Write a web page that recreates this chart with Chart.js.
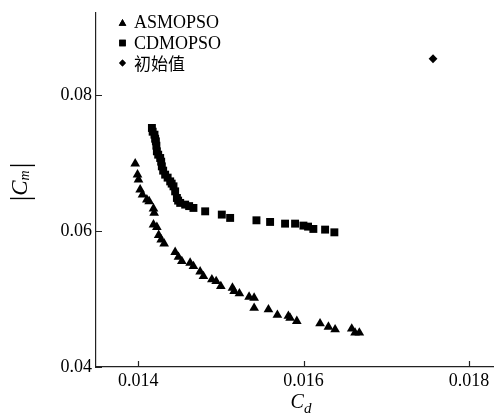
<!DOCTYPE html>
<html>
<head>
<meta charset="utf-8">
<script src="https://cdn.jsdelivr.net/npm/chart.js@4/dist/chart.umd.min.js"></script>
<style>
  html, body { margin: 0; padding: 0; background: #fff; }
  #wrap { width: 494px; height: 417px; }
</style>
</head>
<body>
<div id="wrap"><canvas id="c" width="494" height="417"></canvas></div>
<script>
// series names
const seriesNames = ['ASMOPSO', 'CDMOPSO', '初始值'];

// ASMOPSO front (Cd, |Cm|)
const asmX = [0.013964, 0.013992, 0.014004, 0.014024, 0.014052, 0.014105, 0.014133, 0.014185, 0.014193, 0.014185,
  0.014226, 0.014248, 0.014278, 0.014314, 0.014447, 0.014487, 0.014528, 0.014628, 0.014668, 0.014749,
  0.014789, 0.014891, 0.014943, 0.014999, 0.01514, 0.01516, 0.015224, 0.015341, 0.015402, 0.015402,
  0.015575, 0.015683, 0.015816, 0.015837, 0.015918, 0.016199, 0.0163, 0.016381, 0.016582, 0.016622, 0.016674];
const asmY = [0.06993, 0.06831, 0.06757, 0.06610, 0.06537, 0.06463, 0.06438, 0.06331, 0.06268, 0.06096,
  0.06059, 0.05941, 0.05875, 0.05816, 0.05691, 0.05618, 0.05556, 0.05532, 0.05482, 0.05404,
  0.05335, 0.05287, 0.05262, 0.05188, 0.05165, 0.05115, 0.05081, 0.05032, 0.05018, 0.04868,
  0.04846, 0.04765, 0.04750, 0.04721, 0.04674, 0.04640, 0.04591, 0.04551, 0.04562, 0.04503, 0.04503];

// CDMOPSO front
const cdX = [0.014166, 0.014175, 0.014197, 0.014205, 0.014214, 0.01422, 0.014226, 0.014242, 0.014266, 0.014278,
  0.014286, 0.014302, 0.014326, 0.014356, 0.014387, 0.014405, 0.014427, 0.014447, 0.014468, 0.014483,
  0.014508, 0.014568, 0.014616, 0.014668, 0.01481, 0.015011, 0.015112, 0.01543, 0.015595, 0.015776,
  0.015897, 0.015998, 0.016054, 0.016118, 0.01626, 0.016372];
const cdY = [0.07518, 0.07463, 0.07419, 0.07360, 0.07321, 0.07257, 0.07174, 0.07125, 0.07076, 0.07022,
  0.06953, 0.06890, 0.06831, 0.06787, 0.06732, 0.06699, 0.06659, 0.06585, 0.06488, 0.06449,
  0.06415, 0.06390, 0.06368, 0.06341, 0.06291, 0.06243, 0.06194, 0.06159, 0.06135, 0.06110,
  0.06110, 0.06081, 0.06066, 0.06032, 0.06022, 0.05982];

// initial design
const initX = [0.017565];
const initY = [0.08537];

// ticks
const xTicks = [0.014, 0.016, 0.018];
const xTickLabels = ['0.014', '0.016', '0.018'];
const yTicks = [0.04, 0.06, 0.08];
const yTickLabels = ['0.04', '0.06', '0.08'];

const pts = (xs, ys) => xs.map((x, i) => ({ x: x, y: ys[i] }));
const SERIF = '"Liberation Serif", "DejaVu Serif", serif';

// inward tick marks
const tickMarks = {
  id: 'tickMarks',
  afterDraw(chart) {
    const ctx = chart.ctx;
    const xs = chart.scales.x, ys = chart.scales.y;
    const a = chart.chartArea;
    ctx.save();
    ctx.strokeStyle = '#222';
    ctx.lineWidth = 1.2;
    ctx.beginPath();
    xTicks.forEach(v => {
      const p = Math.round(xs.getPixelForValue(v)) + 0.5;
      ctx.moveTo(p, a.bottom);
      ctx.lineTo(p, a.bottom - 6);
    });
    yTicks.forEach(v => {
      const p = Math.round(ys.getPixelForValue(v)) + 0.5;
      ctx.moveTo(a.left, p);
      ctx.lineTo(a.left + 6, p);
    });
    ctx.stroke();
    ctx.restore();
  }
};

// axis titles with italic subscripts
const axisTitles = {
  id: 'axisTitles',
  afterDraw(chart) {
    const ctx = chart.ctx;
    ctx.save();
    ctx.fillStyle = '#000';
    ctx.textBaseline = 'alphabetic';
    // x title: C_d
    ctx.font = 'italic 20px ' + SERIF;
    const cw = ctx.measureText('C').width;
    ctx.font = 'italic 15px ' + SERIF;
    const dw = ctx.measureText('d').width;
    let x0 = 301 - (cw + dw) / 2;
    ctx.font = 'italic 20px ' + SERIF;
    ctx.fillText('C', x0, 408);
    ctx.font = 'italic 15px ' + SERIF;
    ctx.fillText('d', x0 + cw, 413);
    // y title: |C_m|
    ctx.translate(28, 182);
    ctx.rotate(-Math.PI / 2);
    ctx.font = '28px ' + SERIF;
    const bw = ctx.measureText('|').width;
    ctx.font = 'italic 23px ' + SERIF;
    const cmw = ctx.measureText('C').width;
    ctx.font = 'italic 14px ' + SERIF;
    const mw = ctx.measureText('m').width;
    const total = bw * 2 + cmw + mw + 2;
    let t = -total / 2;
    ctx.font = '28px ' + SERIF;
    ctx.fillText('|', t, 1);
    t += bw;
    ctx.font = 'italic 23px ' + SERIF;
    ctx.fillText('C', t, -1);
    t += cmw;
    ctx.font = 'italic 14px ' + SERIF;
    ctx.fillText('m', t, 1);
    t += mw + 2;
    ctx.font = '28px ' + SERIF;
    ctx.fillText('|', t, 1);
    ctx.restore();
  }
};

// legend drawn inside plot area
const innerLegend = {
  id: 'innerLegend',
  afterDraw(chart) {
    const ctx = chart.ctx;
    const markY = [23.5, 43, 63];
    const textY = [27.5, 49, 70];
    const styles = [
      { pointStyle: 'triangle', radius: 4.4 },
      { pointStyle: 'rect', radius: 4.6 },
      { pointStyle: 'rectRot', radius: 3.4 }
    ];
    ctx.save();
    chart.data.datasets.forEach((ds, i) => {
      ctx.fillStyle = '#000';
      ctx.strokeStyle = '#000';
      ctx.lineWidth = 0;
      Chart.helpers.drawPoint(ctx, { pointStyle: styles[i].pointStyle, radius: styles[i].radius, rotation: 0, borderWidth: 0 }, 122.5, markY[i]);
      ctx.fill();
      ctx.font = (i === 2 ? '17px "Noto Sans CJK SC", ' : '18px ') + SERIF;
      ctx.textBaseline = 'alphabetic';
      ctx.fillText(ds.label, 134, textY[i]);
    });
    ctx.restore();
  }
};

new Chart(document.getElementById('c'), {
  type: 'scatter',
  data: {
    datasets: [
      { label: seriesNames[0], data: pts(asmX, asmY), pointStyle: 'triangle', radius: 5.6,
        backgroundColor: '#000', borderColor: '#000', borderWidth: 0 },
      { label: seriesNames[1], data: pts(cdX, cdY), pointStyle: 'rect', radius: 5.6,
        backgroundColor: '#000', borderColor: '#000', borderWidth: 0 },
      { label: seriesNames[2], data: pts(initX, initY), pointStyle: 'rectRot', radius: 4.4,
        backgroundColor: '#000', borderColor: '#000', borderWidth: 0 }
    ]
  },
  options: {
    responsive: false,
    animation: false,
    events: [],
    clip: false,
    layout: { autoPadding: false, padding: { top: 13, right: 1, left: 0, bottom: 0 } },
    plugins: { legend: { display: false }, tooltip: { enabled: false } },
    scales: {
      x: {
        type: 'linear',
        min: 0.01349,
        max: 0.01829,
        afterFit: s => { s.height = 50; s.paddingLeft = 0; s.paddingRight = 0; },
        afterBuildTicks: s => { s.ticks = xTicks.map(v => ({ value: v })); },
        grid: { display: false, drawTicks: false },
        border: { display: true, color: '#222', width: 1.2 },
        ticks: {
          color: '#000', padding: 3, maxRotation: 0, autoSkip: false,
          font: { family: SERIF, size: 18 },
          callback: (v) => xTickLabels[xTicks.findIndex(t => Math.abs(t - v) < 1e-9)]
        }
      },
      y: {
        type: 'linear',
        min: 0.04,
        max: 0.0921,
        afterFit: s => { s.width = 96; s.paddingTop = 0; s.paddingBottom = 0; },
        afterBuildTicks: s => { s.ticks = yTicks.map(v => ({ value: v })); },
        grid: { display: false, drawTicks: false },
        border: { display: true, color: '#222', width: 1.2 },
        ticks: {
          color: '#000', padding: 4, autoSkip: false,
          font: { family: SERIF, size: 18 },
          callback: (v) => yTickLabels[yTicks.findIndex(t => Math.abs(t - v) < 1e-9)]
        }
      }
    }
  },
  plugins: [tickMarks, axisTitles, innerLegend]
});
</script>
</body>
</html>
